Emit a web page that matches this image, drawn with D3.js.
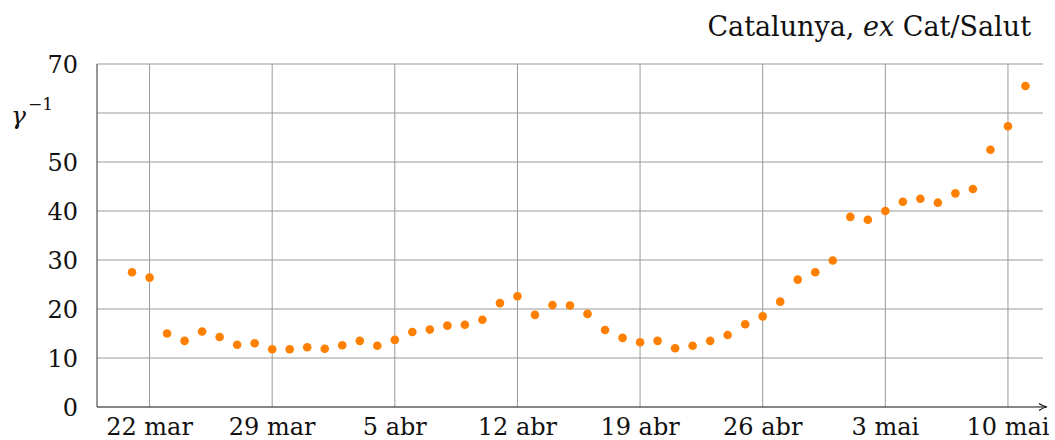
<!DOCTYPE html>
<html>
<head>
<meta charset="utf-8">
<script src="https://cdn.jsdelivr.net/npm/d3@7"></script>
<style>
  body { margin: 0; background: #fff; }
</style>
</head>
<body>
<div id="chart"></div>
<script>
const dates = [
  "2020-03-21", "2020-03-22", "2020-03-23", "2020-03-24", "2020-03-25", "2020-03-26",
  "2020-03-27", "2020-03-28", "2020-03-29", "2020-03-30", "2020-03-31",
  "2020-04-01", "2020-04-02", "2020-04-03", "2020-04-04", "2020-04-05", "2020-04-06",
  "2020-04-07", "2020-04-08", "2020-04-09", "2020-04-10", "2020-04-11", "2020-04-12",
  "2020-04-13", "2020-04-14", "2020-04-15", "2020-04-16", "2020-04-17", "2020-04-18",
  "2020-04-19", "2020-04-20", "2020-04-21", "2020-04-22", "2020-04-23", "2020-04-24",
  "2020-04-25", "2020-04-26", "2020-04-27", "2020-04-28", "2020-04-29", "2020-04-30",
  "2020-05-01", "2020-05-02", "2020-05-03", "2020-05-04", "2020-05-05", "2020-05-06",
  "2020-05-07", "2020-05-08", "2020-05-09", "2020-05-10", "2020-05-11"
];
const gammaInv = [
  27.5, 26.4, 15.0, 13.5, 15.4, 14.3, 12.7, 13.0, 11.8, 11.8, 12.2,
  11.9, 12.6, 13.5, 12.5, 13.7, 15.3, 15.8, 16.6, 16.8, 17.8, 21.2, 22.6,
  18.8, 20.8, 20.7, 19.0, 15.7, 14.1, 13.2, 13.5, 12.0, 12.5, 13.5, 14.7,
  16.9, 18.5, 21.5, 26.0, 27.5, 29.9,
  38.8, 38.2, 40.0, 41.9, 42.5, 41.7, 43.6, 44.5, 52.5, 57.3, 65.5
];
const xTickDates = ["2020-03-22", "2020-03-29", "2020-04-05", "2020-04-12", "2020-04-19", "2020-04-26", "2020-05-03", "2020-05-10"];
const xTickLabels = ["22 mar", "29 mar", "5 abr", "12 abr", "19 abr", "26 abr", "3 mai", "10 mai"];
const yGrid = [10, 20, 30, 40, 50, 60, 70];
const yTickLabels = [0, 10, 20, 30, 40, 50, 70];
const xDomain = ["2020-03-19", "2020-05-12"];

const width = 1055, height = 440;
const plotLeft = 97, plotRight = 1043, plotTop = 64, plotBottom = 407;
const parse = d3.timeParse("%Y-%m-%d");

const svg = d3.select("#chart").append("svg")
  .attr("width", width)
  .attr("height", height)
  .attr("font-family", "'DejaVu Serif', serif");

const x = d3.scaleTime().domain(xDomain.map(parse)).range([plotLeft, plotRight]);
const y = d3.scaleLinear().domain([0, 70]).range([plotBottom, plotTop]);

// grid
svg.append("g").selectAll("line")
  .data(yGrid)
  .join("line")
  .attr("x1", plotLeft).attr("x2", plotRight)
  .attr("y1", d => y(d)).attr("y2", d => y(d))
  .attr("stroke", "#9a9a9a").attr("stroke-width", 1);

svg.append("g").selectAll("line")
  .data(xTickDates)
  .join("line")
  .attr("x1", d => x(parse(d))).attr("x2", d => x(parse(d)))
  .attr("y1", plotTop).attr("y2", plotBottom)
  .attr("stroke", "#9a9a9a").attr("stroke-width", 1);

// axes lines
svg.append("line")
  .attr("x1", plotLeft).attr("x2", plotLeft)
  .attr("y1", plotTop).attr("y2", plotBottom)
  .attr("stroke", "#555").attr("stroke-width", 1.2);

svg.append("line")
  .attr("x1", plotLeft).attr("x2", plotRight + 2)
  .attr("y1", plotBottom).attr("y2", plotBottom)
  .attr("stroke", "#111").attr("stroke-width", 1.2);

svg.append("path")
  .attr("d", `M${plotRight - 4},${plotBottom - 3.5} Q${plotRight},${plotBottom - 0.5} ${plotRight + 4},${plotBottom} Q${plotRight},${plotBottom + 0.5} ${plotRight - 4},${plotBottom + 3.5}`)
  .attr("fill", "none").attr("stroke", "#111").attr("stroke-width", 1.1);

// tick labels
svg.append("g").selectAll("text")
  .data(yTickLabels)
  .join("text")
  .attr("x", 78)
  .attr("y", d => y(d))
  .attr("dy", "0.36em")
  .attr("text-anchor", "end")
  .attr("font-size", 24)
  .attr("fill", "#111")
  .text(d => d);

svg.append("g").selectAll("text")
  .data(xTickDates)
  .join("text")
  .attr("x", d => x(parse(d)))
  .attr("y", 435)
  .attr("text-anchor", "middle")
  .attr("font-size", 24)
  .attr("fill", "#111")
  .text((d, i) => xTickLabels[i]);

// y label
const yl = svg.append("text")
  .attr("x", 11)
  .attr("y", 124)
  .attr("font-size", 25)
  .attr("fill", "#111");
yl.append("tspan").attr("font-style", "italic").text("γ");
yl.append("tspan").attr("dx", 2).attr("dy", -14).attr("font-size", 17).text("−1");

// title
const title = svg.append("text")
  .attr("x", 1031)
  .attr("y", 36)
  .attr("text-anchor", "end")
  .attr("font-size", 27)
  .attr("fill", "#111");
title.append("tspan").text("Catalunya, ");
title.append("tspan").attr("font-style", "italic").text("ex");
title.append("tspan").text(" Cat/Salut");

// points
svg.append("g").selectAll("circle")
  .data(dates.map((d, i) => ({ date: parse(d), value: gammaInv[i] })))
  .join("circle")
  .attr("cx", d => x(d.date))
  .attr("cy", d => y(d.value))
  .attr("r", 4.3)
  .attr("fill", "#ff8000");
</script>
</body>
</html>
